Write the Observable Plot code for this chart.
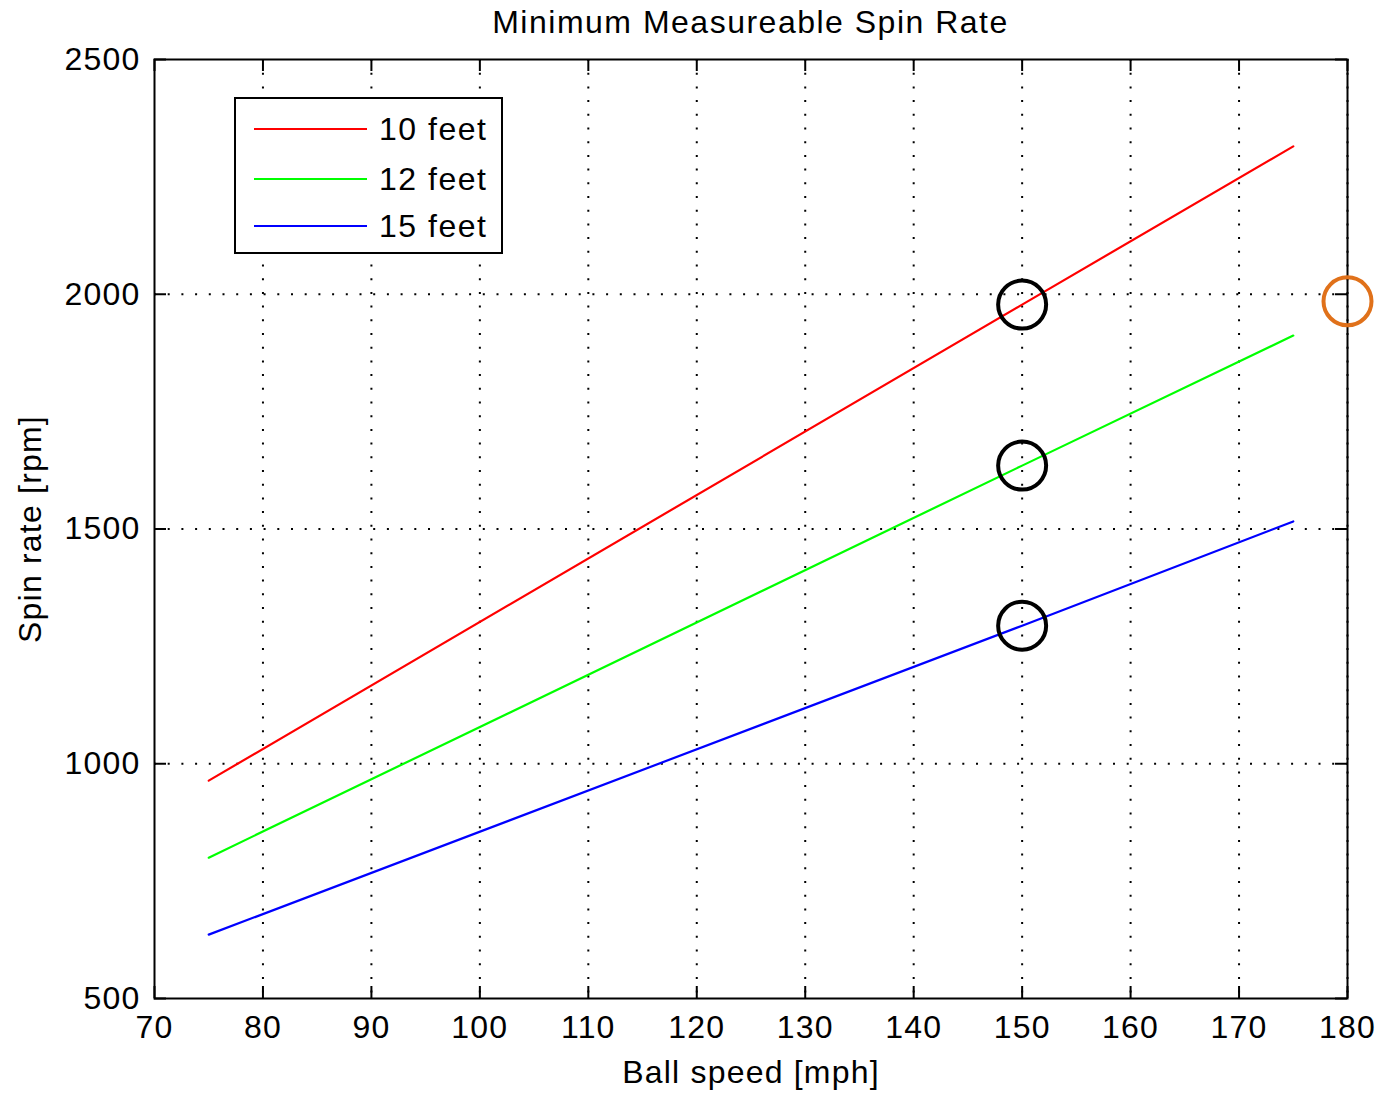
<!DOCTYPE html>
<html>
<head>
<meta charset="utf-8">
<script src="https://cdn.jsdelivr.net/npm/d3@7"></script>
<script src="https://cdn.jsdelivr.net/npm/@observablehq/plot@0.6"></script>
<style>
  html, body { margin: 0; padding: 0; background: #fff; }
  #wrap { position: relative; width: 1393px; height: 1094px; font-family: "Liberation Sans", Arial, Helvetica, sans-serif; }
  #title { height: 46px; width: 1193px; margin-left: 154px; text-align: center; font-size: 32px; line-height: 32px; padding-top: 6px; box-sizing: border-box; letter-spacing: 1.5px; color: #000; }
  #legend { position: absolute; left: 234px; top: 97px; width: 269px; height: 157px; border: 2px solid #000; box-sizing: border-box; background: #fff; }
  .row { position: absolute; left: 0; height: 40px; width: 100%; }
  .swatch { position: absolute; left: 18px; width: 113px; height: 2px; top: 19px; }
  .lab { position: absolute; left: 143px; top: 0; font-size: 32px; line-height: 40px; letter-spacing: 1.5px; color: #000; white-space: nowrap; }
</style>
</head>
<body>
<div id="wrap">
  <div id="title"></div>
  <div id="chart"></div>
  <div id="legend"></div>
</div>
<script>
// ---- data ----
const titleText = "Minimum Measureable Spin Rate";
const xLabel = "Ball speed [mph]";
const yLabel = "Spin rate [rpm]";
const seriesNames = ["10 feet", "12 feet", "15 feet"];
const seriesColors = ["#ff0000", "#00ff00", "#0000ff"];
const speeds = [75, 150, 175];
const spin10 = [964, 1978, 2315];
const spin12 = [800, 1635, 1912];
const spin15 = [636, 1294, 1516];
const xTicks = [70, 80, 90, 100, 110, 120, 130, 140, 150, 160, 170, 180];
const yTicks = [500, 1000, 1500, 2000, 2500];
const markX = [150, 150, 150];
const markY = [1978, 1635, 1294];
const orangeX = [180];
const orangeY = [1985];

// ---- build table ----
const seriesValues = [spin10, spin12, spin15];
const rows = [];
seriesNames.forEach((name, i) => {
  speeds.forEach((s, j) => rows.push({series: name, speed: s, spin: seriesValues[i][j]}));
});
const marks = markX.map((x, i) => ({x, y: markY[i]}));
const orange = orangeX.map((x, i) => ({x, y: orangeY[i]}));

document.getElementById("title").textContent = titleText;

const W = 1393, H = 1048;
const mL = 154, mR = 46, mT = 13, mB = 96;
const plotW = W - mL - mR, plotH = H - mT - mB;
const tickLen = 12;

const chart = Plot.plot({
  width: W,
  height: H,
  marginLeft: mL,
  marginRight: mR,
  marginTop: mT,
  marginBottom: mB,
  style: {fontFamily: "'Liberation Sans', Arial, Helvetica, sans-serif", fontSize: "32px", color: "#000", background: "#fff", overflow: "visible", letterSpacing: "1.2px"},
  x: {domain: [70, 180]},
  y: {domain: [500, 2500]},
  color: {domain: seriesNames, range: seriesColors},
  marks: [
    Plot.gridX(xTicks.slice(1), {stroke: "#000", strokeOpacity: 1, strokeWidth: 2, strokeDasharray: "2 11.7"}),
    Plot.gridY(yTicks.slice(1, -1), {stroke: "#000", strokeOpacity: 1, strokeWidth: 2, strokeDasharray: "2 11.7"}),
    Plot.tickX(xTicks, {x: d => d, stroke: "#000", strokeWidth: 2, insetTop: plotH - tickLen}),
    Plot.tickX(xTicks, {x: d => d, stroke: "#000", strokeWidth: 2, insetBottom: plotH - tickLen}),
    Plot.tickY(yTicks, {y: d => d, stroke: "#000", strokeWidth: 2, insetRight: plotW - tickLen}),
    Plot.tickY(yTicks, {y: d => d, stroke: "#000", strokeWidth: 2, insetLeft: plotW - tickLen}),
    Plot.axisX(xTicks, {tickSize: 0, tickPadding: 17, tickFormat: d => String(d), label: xLabel, labelAnchor: "center", labelArrow: "none", labelOffset: 84}),
    Plot.axisY(yTicks, {tickSize: 0, tickPadding: 14, tickFormat: d => String(d), label: yLabel, labelAnchor: "center", labelArrow: "none", labelOffset: 136}),
    Plot.line(rows, {x: "speed", y: "spin", z: "series", stroke: "series", strokeWidth: 2.2}),
    Plot.frame({stroke: "#000", strokeWidth: 2}),
    Plot.dot(marks, {x: "x", y: "y", r: 24, stroke: "#000", strokeWidth: 4, fill: "none"}),
    Plot.dot(orange, {x: "x", y: "y", r: 24, stroke: "#e0711a", strokeWidth: 4, fill: "none"})
  ]
});
document.getElementById("chart").appendChild(chart);

// ---- legend ----
const legend = document.getElementById("legend");
const rowTops = [10, 60, 107];
seriesNames.forEach((name, i) => {
  const r = document.createElement("div");
  r.className = "row";
  r.style.top = rowTops[i] + "px";
  const sw = document.createElement("div");
  sw.className = "swatch";
  sw.style.background = seriesColors[i];
  const lb = document.createElement("div");
  lb.className = "lab";
  lb.textContent = name;
  r.appendChild(sw); r.appendChild(lb);
  legend.appendChild(r);
});
</script>
</body>
</html>
